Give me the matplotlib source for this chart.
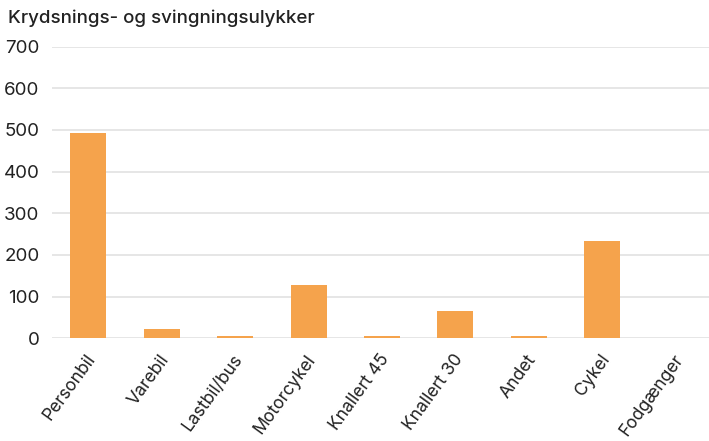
import matplotlib
matplotlib.use("Agg")
import matplotlib.pyplot as plt
from matplotlib.transforms import ScaledTranslation

categories = ["Personbil", "Varebil", "Lastbil/bus", "Motorcykel", "Knallert 45",
              "Knallert 30", "Andet", "Cykel", "Fodgænger"]
values = [492, 22, 6, 128, 6, 65, 6, 234, 0]
y_ticks = [0, 100, 200, 300, 400, 500, 600, 700]
title = "Krydsnings- og svingningsulykker"

plt.rcParams["font.family"] = ["Inter", "DejaVu Sans"]

W, H = 709, 441
fig = plt.figure(figsize=(W / 100, H / 100), dpi=100)
left, right, top, bottom = 52, 709, 46.6, 338.3
ax = fig.add_axes([left / W, (H - bottom) / H, (right - left) / W, (bottom - top) / H])

x = list(range(len(categories)))
ax.bar(x, values, width=0.49, color="#F5A34C", zorder=3)

ax.set_ylim(0, 700)
ax.set_xlim(-0.494, 8.453)
ax.set_yticks(y_ticks)
ax.set_yticklabels([str(v) for v in y_ticks], fontsize=13.5, color="#222222")
ax.yaxis.grid(True, color="#e2e2e2", linewidth=1.2, zorder=0)
ax.tick_params(axis="y", length=0, pad=9)
ax.tick_params(axis="x", length=0, pad=13)
ax.set_xticks(x)
ax.set_xticklabels(categories, rotation=54, ha="right", va="center",
                   rotation_mode="anchor", fontsize=12.6, color="#222222")
shift = ScaledTranslation(4 / 100, 0, fig.dpi_scale_trans)
for lbl in ax.get_xticklabels():
    lbl.set_transform(lbl.get_transform() + shift)
for s in ax.spines.values():
    s.set_visible(False)

fig.text(8 / W, 1 - 18 / H, title, fontsize=13.5, fontweight="medium",
         color="#222222", va="center", ha="left")

fig.savefig("out.png", dpi=100)
